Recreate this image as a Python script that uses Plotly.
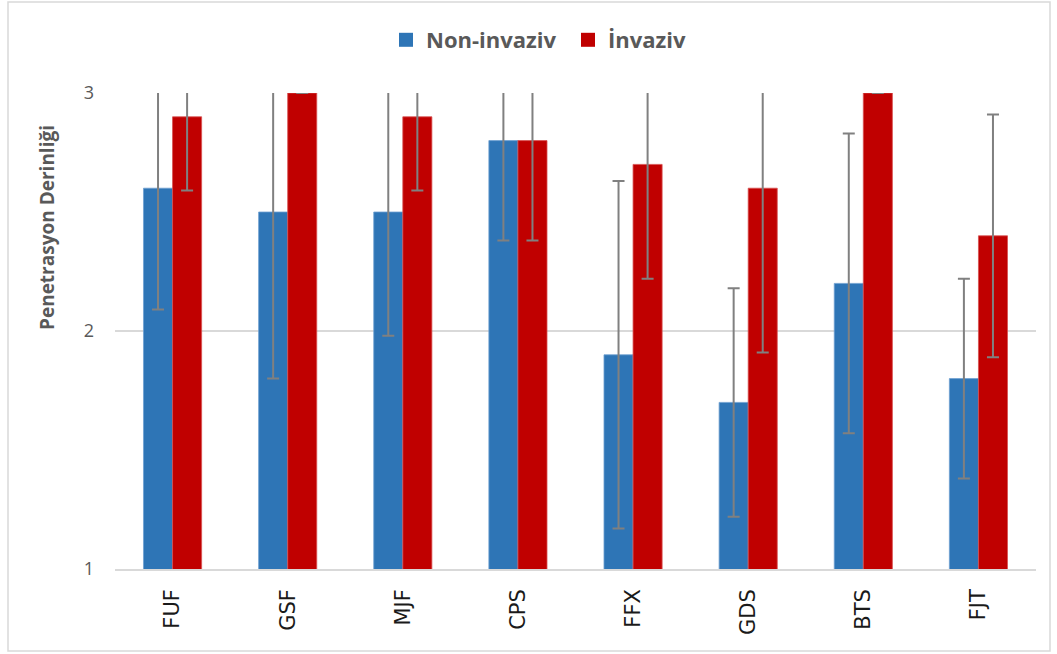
import plotly.graph_objects as go

# Penetration depth per group: means and standard deviations
categories = ["FUF", "GSF", "MJF", "CPS", "FFX", "GDS", "BTS", "FJT"]
non_invasive = [2.6, 2.5, 2.5, 2.8, 1.9, 1.7, 2.2, 1.8]
non_invasive_sd = [0.51, 0.70, 0.52, 0.42, 0.73, 0.48, 0.63, 0.42]
invasive = [2.9, 3.0, 2.9, 2.8, 2.7, 2.6, 3.0, 2.4]
invasive_sd = [0.31, 0.0, 0.31, 0.42, 0.48, 0.69, 0.0, 0.51]
series_names = ["Non-invaziv", "İnvaziv"]
series_colors = ["#2E75B6", "#C00000"]
edge_colors = ["#6fa0d0", "#d85050"]
y_title = "Penetrasyon Derinliği"

W, H = 1057, 654
M_L, M_R, M_T, M_B = 115, 21, 93, 85
pw, ph = W - M_L - M_R, H - M_T - M_B


def px_x(px):
    return (px - M_L) / pw


def px_y(py):
    return (H - M_B - py) / ph


err_style = dict(type="data", visible=True, color="#808080", thickness=2, width=6)

fig = go.Figure()
for name, vals, sd, col, edge in zip(series_names, [non_invasive, invasive],
                                     [non_invasive_sd, invasive_sd],
                                     series_colors, edge_colors):
    fig.add_trace(go.Bar(
        name=name, x=categories, y=vals, showlegend=False,
        marker=dict(color=col, line=dict(color=edge, width=0.8)),
        error_y=dict(array=sd, **err_style),
    ))

# legend entries with larger square swatches
for name, col in zip(series_names, series_colors):
    fig.add_trace(go.Scatter(
        name=name, x=[None], y=[None], mode="markers",
        marker=dict(symbol="square", size=14, color=col),
    ))

# outer frame around the whole chart
fig.add_shape(
    type="rect", xref="paper", yref="paper",
    x0=px_x(8), x1=px_x(1050), y0=px_y(651), y1=px_y(2),
    line=dict(color="#d9d9d9", width=1.5), layer="below",
)

# vertical axis title
fig.add_annotation(
    text=y_title, textangle=-90, showarrow=False,
    xref="paper", yref="paper", x=px_x(47), y=px_y(228),
    xanchor="center", yanchor="middle",
    font=dict(family="Open Sans", size=19, color="#595959", weight="bold"),
)

fig.update_layout(
    width=W, height=H,
    margin=dict(l=M_L, r=M_R, t=M_T, b=M_B),
    paper_bgcolor="white", plot_bgcolor="white",
    barmode="group", bargap=0.495, bargroupgap=0,
    showlegend=True,
    legend=dict(
        orientation="h", x=px_x(386), xanchor="left", y=px_y(40), yanchor="middle",
        font=dict(family="Open Sans", size=22, color="#595959", weight="bold"),
        traceorder="normal", itemsizing="trace", entrywidth=137,
    ),
    xaxis=dict(
        tickangle=-90, showgrid=False, showline=True, linecolor="#d9d9d9", linewidth=1.5,
        ticks="", ticklabelstandoff=10,
        tickfont=dict(family="DejaVu Sans", size=21, color="#1a1a1a"),
    ),
    yaxis=dict(
        range=[1, 3], tickvals=[1, 2, 3], ticktext=["1", "2", "3"],
        showgrid=True, gridcolor="#d9d9d9", gridwidth=1.5, zeroline=False, showline=False,
        ticks="", ticklabelstandoff=20,
        tickfont=dict(family="Open Sans", size=18, color="#595959"),
    ),
)

fig.write_html("out.html")
